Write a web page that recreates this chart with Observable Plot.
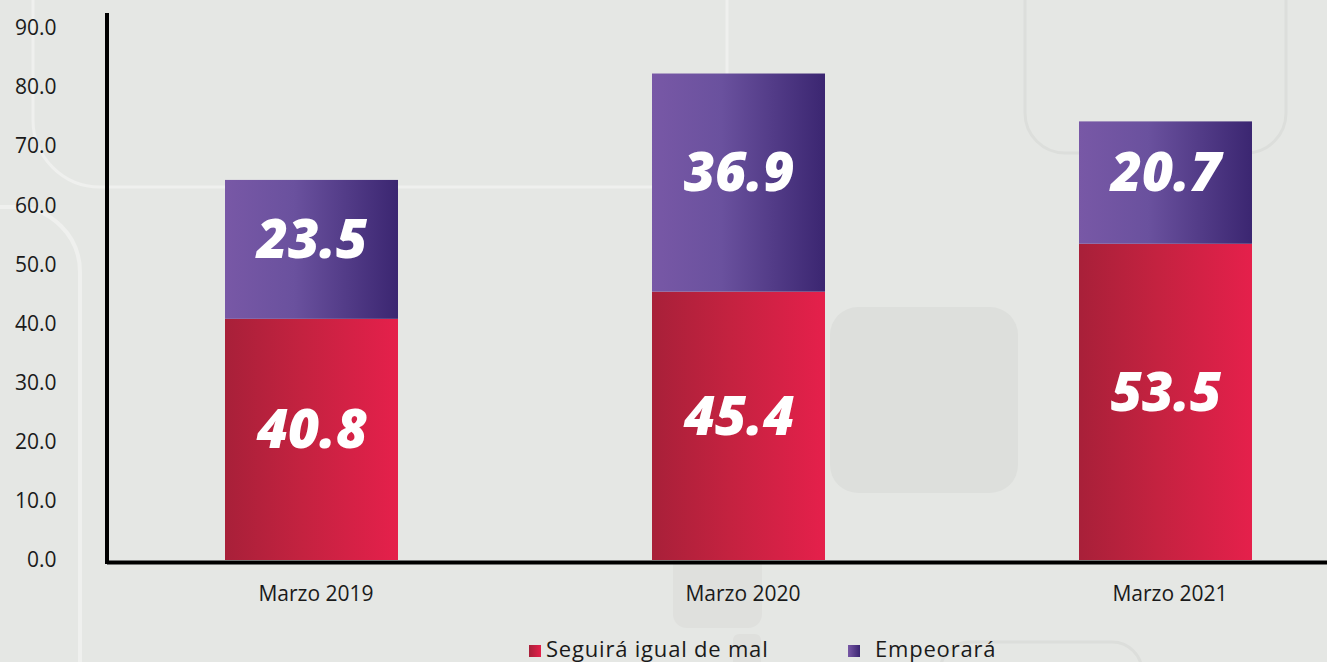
<!DOCTYPE html>
<html>
<head>
<meta charset="utf-8">
<script src="https://cdn.jsdelivr.net/npm/d3@7"></script>
<script src="https://cdn.jsdelivr.net/npm/@observablehq/plot@0.6"></script>
<style>
  html, body { margin: 0; padding: 0; background: #e5e7e4; width: 1327px; height: 662px; overflow: hidden; font-family: "Open Sans", sans-serif; }
  #wrap { position: relative; width: 1327px; height: 662px; }
  #decor { position: absolute; left: 0; top: 0; z-index: 0; }
  #chart { position: absolute; left: 0; top: 0; z-index: 1; }
  #legend { position: absolute; left: 0; top: 630px; width: 1327px; height: 32px; z-index: 1; color: #1a1a1a; font-size: 22px; letter-spacing: 0.8px; }
  .sw { position: absolute; width: 12px; height: 12px; top: 15px; }
  .lt { position: absolute; top: 3px; line-height: 30px; white-space: nowrap; }
</style>
</head>
<body>
<div id="wrap">
  <svg id="decor" width="1327" height="662">
    <path d="M33,-5 V120 A67,67 0 0 0 100,187 H727 V-5" fill="none" stroke="#eff0ee" stroke-width="3"/>
    <path d="M-5,207 H15 A65,65 0 0 1 80,272 V670" fill="none" stroke="#eff0ee" stroke-width="4"/>
    <rect x="1025" y="-60" width="261" height="213" rx="40" fill="none" stroke="#dcdedb" stroke-width="3"/>
    <rect x="830" y="307" width="188" height="186" rx="28" fill="#dddfdc"/>
    <rect x="673" y="540" width="89" height="88" rx="14" fill="#dfe0dd"/>
    <rect x="733" y="634" width="28" height="40" rx="6" fill="#dfe0dd"/>
    <rect x="940" y="642" width="202" height="80" rx="30" fill="none" stroke="#dcdedb" stroke-width="3"/>
  </svg>
  <div id="chart"></div>
  <div id="legend"></div>
</div>
<script>
// ---- data ----
const years = ["Marzo 2019", "Marzo 2020", "Marzo 2021"];
const seguira = [40.8, 45.4, 53.5];
const empeorara = [23.5, 36.9, 20.7];
const seriesNames = ["Seguirá igual de mal", "Empeorará"];
const yTicks = [0, 10, 20, 30, 40, 50, 60, 70, 80, 90];

// table built from the arrays
const redRows = years.map((yr, i) => ({year: yr, y1: 0, y2: seguira[i], mid: seguira[i] / 2, label: seguira[i].toFixed(1)}));
const purpleRows = years.map((yr, i) => ({year: yr, y1: seguira[i], y2: seguira[i] + empeorara[i], mid: seguira[i] + empeorara[i] / 2, label: empeorara[i].toFixed(1)}));

function defsMark() {
  const defs = d3.create("svg:defs");
  const r = defs.append("linearGradient").attr("id", "gRed").attr("x1", 0).attr("x2", 1).attr("y1", 0).attr("y2", 0);
  r.append("stop").attr("offset", "0%").attr("stop-color", "#a82039");
  r.append("stop").attr("offset", "45%").attr("stop-color", "#c42240");
  r.append("stop").attr("offset", "100%").attr("stop-color", "#e5204b");
  const p = defs.append("linearGradient").attr("id", "gPurple").attr("x1", 0).attr("x2", 1).attr("y1", 0).attr("y2", 0);
  p.append("stop").attr("offset", "0%").attr("stop-color", "#7858a6");
  p.append("stop").attr("offset", "40%").attr("stop-color", "#6a519e");
  p.append("stop").attr("offset", "100%").attr("stop-color", "#3b2671");
  return defs.node();
}

function yAxisLine(index, scales, values, dims) {
  const g = d3.create("svg:g");
  g.append("line")
    .attr("x1", dims.marginLeft).attr("x2", dims.marginLeft)
    .attr("y1", dims.marginTop - 2).attr("y2", dims.height - dims.marginBottom + 4)
    .attr("stroke", "#000").attr("stroke-width", 4);
  return g.node();
}

const labelFont = {fontSize: 54, fontWeight: 800, fontStyle: "italic", fill: "white", fontFamily: "'Open Sans', sans-serif"};

const chart = Plot.plot({
  width: 1327,
  height: 630,
  marginTop: 15,
  marginBottom: 70,
  marginLeft: 107,
  marginRight: 0,
  style: {background: "transparent", fontFamily: "'Open Sans', sans-serif", color: "#1a1a1a"},
  x: {type: "band", domain: years, range: [225, 1252], paddingInner: 0.595, paddingOuter: 0, label: null},
  y: {domain: [0, 92.2], label: null},
  marks: [
    defsMark,
    Plot.barY(redRows, {x: "year", y1: "y1", y2: "y2", fill: "url(#gRed)"}),
    Plot.barY(purpleRows, {x: "year", y1: "y1", y2: "y2", fill: "url(#gPurple)"}),
    Plot.text(redRows, {x: "year", y: "mid", text: "label", dy: -9, ...labelFont}),
    Plot.text(purpleRows, {x: "year", y: "mid", text: "label", dy: -9, ...labelFont}),
    Plot.axisY({ticks: yTicks, tickFormat: d => d.toFixed(1), tickSize: 0, tickPadding: 51, fontSize: 21, label: null}),
    Plot.axisX({tickSize: 0, tickPadding: 26, fontSize: 21, dx: 4, label: null}),
    Plot.ruleY([0], {stroke: "#000", strokeWidth: 4, dy: 2}),
    yAxisLine
  ]
});
document.getElementById("chart").appendChild(chart);

// legend
const legend = document.getElementById("legend");
const items = [
  {name: seriesNames[0], grad: "linear-gradient(to right, #a82039, #e5204b)", sw: 529, tx: 546},
  {name: seriesNames[1], grad: "linear-gradient(to right, #7858a6, #3b2671)", sw: 848, tx: 875}
];
for (const it of items) {
  const s = document.createElement("div");
  s.className = "sw"; s.style.left = it.sw + "px"; s.style.background = it.grad;
  legend.appendChild(s);
  const t = document.createElement("div");
  t.className = "lt"; t.style.left = it.tx + "px"; t.textContent = it.name;
  legend.appendChild(t);
}
</script>
</body>
</html>
